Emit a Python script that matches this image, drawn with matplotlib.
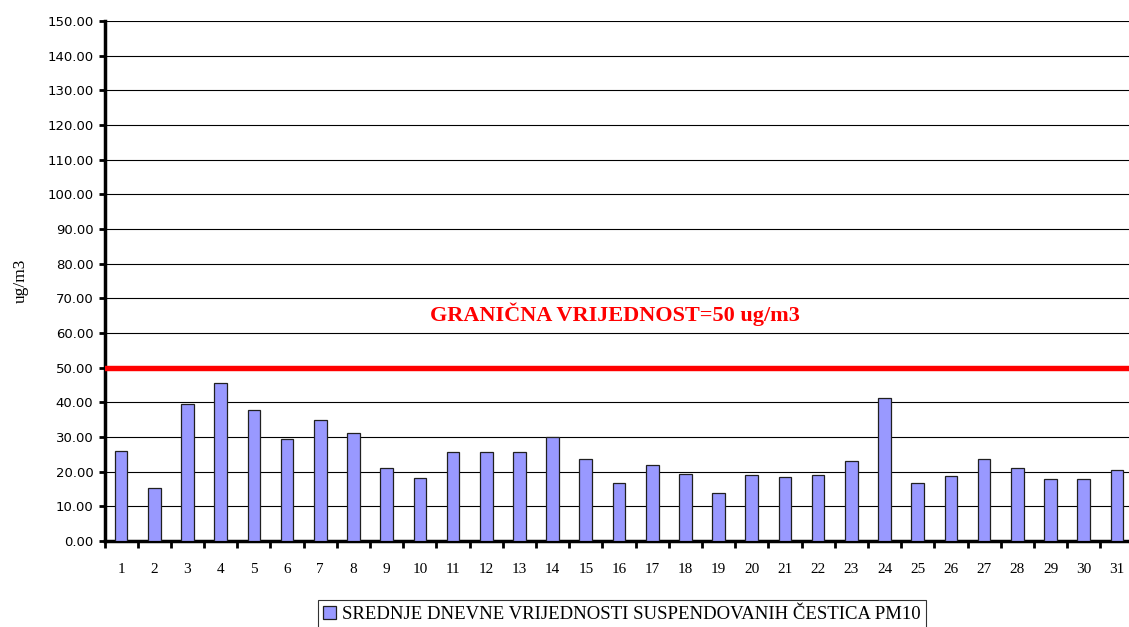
import matplotlib.pyplot as plt
import numpy as np

days = list(range(1, 32))
pm10 = [26.1, 15.3, 39.5, 45.7, 37.8, 29.5, 35.0, 31.2, 21.2, 18.1,
        25.7, 25.7, 25.7, 30.1, 23.6, 16.6, 21.8, 19.4, 13.9, 19.0,
        18.5, 19.0, 23.0, 41.2, 16.6, 18.7, 23.6, 21.2, 17.8, 17.8, 20.6]
limit = 50
yticks = np.arange(0, 151, 10)

fig = plt.figure(figsize=(11.29, 6.27), dpi=100)
ax = fig.add_axes([104.5 / 1129, 1 - 541 / 627, 1029 / 1129, 520 / 627])

x = np.arange(len(days))
ax.bar(x, pm10, width=0.38, color="#9999FF", edgecolor="#202020", linewidth=0.9,
       zorder=3, label="SREDNJE DNEVNE VRIJEDNOSTI SUSPENDOVANIH ČESTICA PM10")
ax.axhline(limit, color="#FF0000", linewidth=3.9, zorder=4)
ax.text(0.496, 65.5, "GRANIČNA VRIJEDNOST=50 ug/m3", color="#FF0000",
        fontsize=16, fontweight="bold", family="Liberation Serif",
        ha="center", va="center", transform=ax.get_yaxis_transform())

ax.set_xlim(-0.5, len(days) - 0.5)
ax.set_ylim(0, 150)
ax.set_yticks(yticks)
ax.set_yticklabels(["%.2f" % v for v in yticks], family="DejaVu Sans", fontsize=9.5)
ax.yaxis.grid(True, color="black", linewidth=0.8, zorder=0)
ax.set_axisbelow(True)

ax.set_xticks(x)
ax.set_xticklabels([str(d) for d in days], family="Liberation Serif", fontsize=11)
ax.set_xticks(np.arange(-0.5, len(days)), minor=True)
ax.tick_params(axis="x", which="major", length=0, pad=16)
ax.tick_params(axis="x", which="minor", length=5, width=2, direction="out")
ax.tick_params(axis="y", length=4, width=2, direction="out", pad=4)

for s in ["top", "right"]:
    ax.spines[s].set_visible(False)
for s in ["left", "bottom"]:
    ax.spines[s].set_linewidth(2.5)

ax.set_ylabel("ug/m3", family="Liberation Serif", fontsize=12.5, labelpad=13)

leg = fig.legend(loc="upper center", bbox_to_anchor=(622 / 1129, 1 - 600 / 627),
                 prop={"family": "Liberation Serif", "size": 13.5},
                 frameon=True, fancybox=False, edgecolor="black",
                 handlelength=0.7, handleheight=0.7, handletextpad=0.3,
                 borderpad=0.3, borderaxespad=0)
leg.get_frame().set_linewidth(0.8)

fig.savefig("out.png", dpi=100)
